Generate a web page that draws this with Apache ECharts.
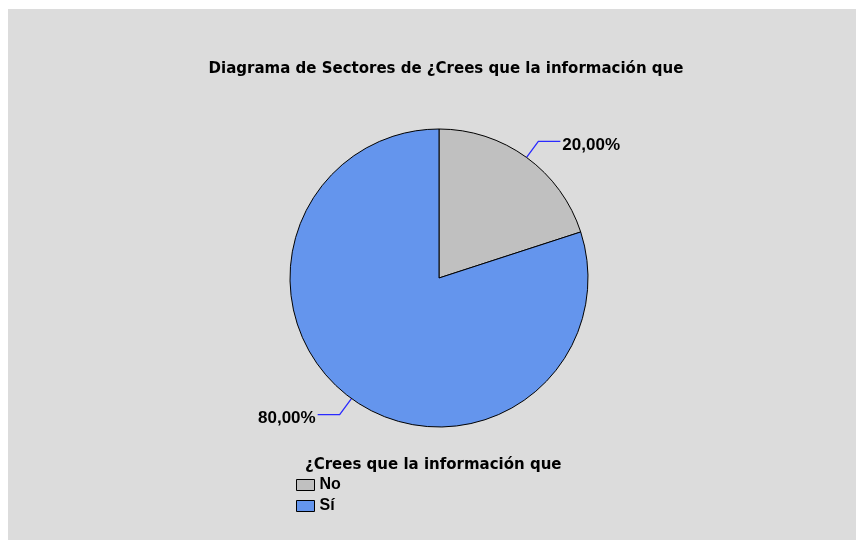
<!DOCTYPE html>
<html>
<head>
<meta charset="utf-8">
<script src="https://cdn.jsdelivr.net/npm/echarts@6/dist/echarts.min.js"></script>
<style>
html,body{margin:0;padding:0;background:#fff;}
#main{width:857px;height:540px;}
</style>
</head>
<body>
<div id="main"></div>
<script>
const titleText = "Diagrama de Sectores de ¿Crees que la información que";
const legendTitle = "¿Crees que la información que";
const categories = ["No", "Sí"];
const values = [20, 80];
const colors = ["#c0c0c0", "#6495ed"];

const font = "'Liberation Sans', Arial, sans-serif";
const wideFont = "'DejaVu Sans', 'Liberation Sans', sans-serif";
const chart = echarts.init(document.getElementById('main'));
chart.setOption({
  backgroundColor: '#ffffff',
  animation: false,
  title: {
    text: titleText,
    left: 441,
    textAlign: 'center',
    top: 57,
    textStyle: {fontFamily: wideFont, fontSize: 15, fontWeight: 'bold', color: '#000'}
  },
  graphic: [
    {type: 'rect', z: -10, silent: true, shape: {x: 8, y: 9, width: 848, height: 531}, style: {fill: '#dcdcdc'}},
    {type: 'text', left: 305, top: 458, style: {text: legendTitle, font: "bold 15px " + wideFont, fill: '#000'}}
  ],
  legend: {
    orient: 'vertical',
    left: 291,
    top: 472,
    itemWidth: 18,
    itemHeight: 11,
    itemGap: 5,
    icon: 'rect',
    itemStyle: {borderColor: '#000', borderWidth: 1},
    textStyle: {fontFamily: font, fontSize: 16, fontWeight: 'bold', color: '#000', lineHeight: 11},
    data: categories
  },
  series: [{
    type: 'pie',
    center: [439, 278],
    radius: [0, 149],
    startAngle: 90,
    clockwise: true,
    avoidLabelOverlap: false,
    itemStyle: {borderColor: '#000', borderWidth: 1},
    label: {
      show: true,
      formatter: p => p.value.toFixed(2).replace('.', ',') + '%',
      fontFamily: font, fontSize: 17, fontWeight: 'bold', color: '#000',
      distanceToLabelLine: 2
    },
    labelLayout: params => ({dy: 4, labelLinePoints: params.labelLinePoints}),
    labelLine: {show: true, length: 20, length2: 22, lineStyle: {color: '#2a2aff', width: 1.3}},
    emphasis: {disabled: true},
    data: categories.map((c, i) => ({name: c, value: values[i], itemStyle: {color: colors[i]}}))
  }]
});
</script>
</body>
</html>
